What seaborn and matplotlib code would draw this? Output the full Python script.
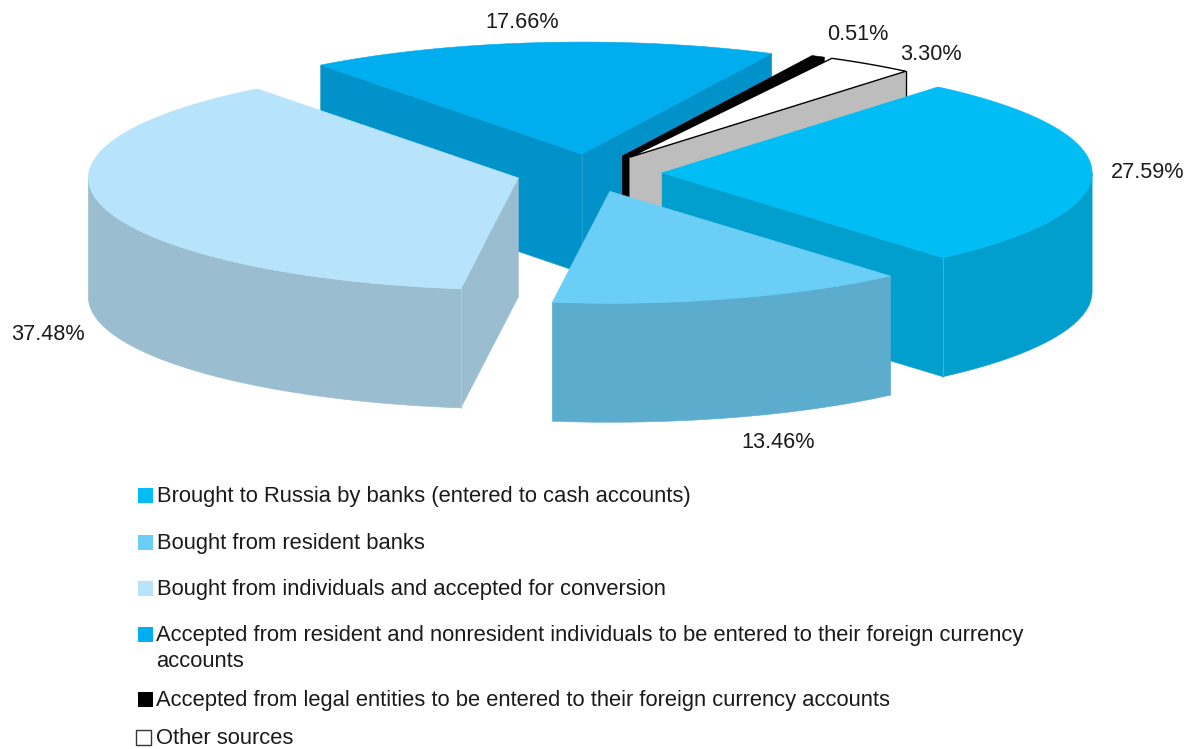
import numpy as np
import matplotlib
matplotlib.use("Agg")
import matplotlib.pyplot as plt
from matplotlib.patches import Polygon, Rectangle
import seaborn as sns

# ---- data, in chart order (clockwise) ----
categories = [
    "Brought to Russia by banks (entered to cash accounts)",
    "Bought from resident banks",
    "Bought from individuals and accepted for conversion",
    "Accepted from resident and nonresident individuals to be entered to their foreign currency\naccounts",
    "Accepted from legal entities to be entered to their foreign currency accounts",
    "Other sources",
]
shares = [27.59, 13.46, 37.48, 17.66, 0.51, 3.30]
top_colors = ["#00BDF5", "#6BCEF6", "#B7E4FA", "#00ADEF", "#000000", "#FFFFFF"]
side_colors = ["#009FCD", "#5CACCE", "#9ABDD0", "#0092C8", "#000000", "#BDBDBD"]
seam_colors = ["#35B8DE", "#7CC0DB", "#AECBDB", "#1FA0D2", "#000000", "#000000"]
label_pos = [(1148, 172), (778, 443), (48, 335), (522, 23), (858, 34), (931, 55)]
marker_top = [488, 535, 581, 627, 692, 730]
text_base = [502, 549, 595, 641, 706, 744]
text_x = [157, 157, 157, 156, 156, 156]

# ---- projection of the tilted pie, in pixels ----
CX, CY = 589, 173
RX, RY = 430, 112
DEPTH = 119
EXPLODE = 0.17
START = 50.1
LINE_STEP = 26

sns.set_theme(style="white")
plt.rcParams["font.family"] = ["Liberation Sans", "DejaVu Sans"]

fig = plt.figure(figsize=(11.92, 7.49), dpi=100)
ax = fig.add_axes([0, 0, 1, 1])
ax.set_xlim(0, 1192)
ax.set_ylim(749, 0)
ax.axis("off")

fr = np.array(shares) / sum(shares) * 360
ends = START - np.cumsum(fr)
starts = ends + fr
mids = (starts + ends) / 2


def wall(xa, ya):
    """Polygon of a wall hanging below the polyline xa, ya."""
    top = np.column_stack([xa, ya])
    bottom = np.column_stack([xa, ya + DEPTH])[::-1]
    return np.vstack([top, bottom])


order = list(np.argsort(-np.sin(np.radians(mids)), kind="stable"))
for rank, i in enumerate(order):
    z = 2 + 0.01 * rank
    ox = EXPLODE * RX * np.cos(np.radians(mids[i]))
    oy = -EXPLODE * RY * np.sin(np.radians(mids[i]))
    ts = np.radians(np.linspace(starts[i], ends[i], 90))
    arc_x = CX + ox + RX * np.cos(ts)
    arc_y = CY + oy - RY * np.sin(ts)
    apex_x, apex_y = CX + ox, CY + oy
    outline = i == 5

    # clockwise outline: a wall faces the viewer where the outline runs leftwards
    faces = []
    first_visible = arc_x[0] < apex_x      # apex -> arc start
    last_visible = apex_x < arc_x[-1]      # arc end -> apex
    if first_visible:
        faces.append(wall(np.array([apex_x, arc_x[0]]), np.array([apex_y, arc_y[0]])))
    if last_visible:
        faces.append(wall(np.array([arc_x[-1], apex_x]), np.array([arc_y[-1], apex_y])))
    vis = np.diff(arc_x) < 0
    if vis.any():
        idx = np.where(vis)[0]
        a, b = idx[0], idx[-1] + 2
        faces.append(wall(arc_x[a:b], arc_y[a:b]))
        arc_start_vis, arc_end_vis = vis[0], vis[-1]
    else:
        arc_start_vis = arc_end_vis = False
    for f in faces:
        ax.add_patch(Polygon(f, closed=True, fc=side_colors[i], ec=side_colors[i],
                             lw=0.4, zorder=z))

    # vertical seams where two visible walls meet
    seams = []
    if first_visible and last_visible:
        seams.append((apex_x, apex_y))
    if first_visible and arc_start_vis:
        seams.append((arc_x[0], arc_y[0]))
    if last_visible and arc_end_vis:
        seams.append((arc_x[-1], arc_y[-1]))
    if not outline:
        for sx, sy in seams:
            ax.plot([sx, sx], [sy, sy + DEPTH], color=seam_colors[i], lw=0.7, zorder=z + 0.001)
    else:
        ax.plot([arc_x[-1]] * 2, [arc_y[-1], arc_y[-1] + DEPTH], color="black", lw=1.0,
                zorder=z + 0.001)

    ax.add_patch(Polygon(np.column_stack([np.r_[apex_x, arc_x], np.r_[apex_y, arc_y]]),
                         closed=True, fc=top_colors[i],
                         ec="black" if outline else top_colors[i],
                         lw=1.0 if outline else 0.4, zorder=z + 0.002))

for value, (x, y) in zip(shares, label_pos):
    ax.text(x, y, f"{value:.2f}%", ha="center", va="center", fontsize=15.6,
            color="#1a1a1a", zorder=5)

for i, name in enumerate(categories):
    last = i == len(categories) - 1
    x0 = 136 if last else 138
    ax.add_patch(Rectangle((x0, marker_top[i]), 15, 15, fc=top_colors[i],
                           ec="#333333" if last else top_colors[i],
                           lw=1.0 if last else 0, zorder=5))
    for n, line in enumerate(name.split("\n")):
        ax.text(text_x[i], text_base[i] + n * LINE_STEP, line, ha="left", va="baseline",
                fontsize=15.85, color="#1a1a1a", zorder=5)

fig.savefig("out.png", dpi=100, facecolor="white")
